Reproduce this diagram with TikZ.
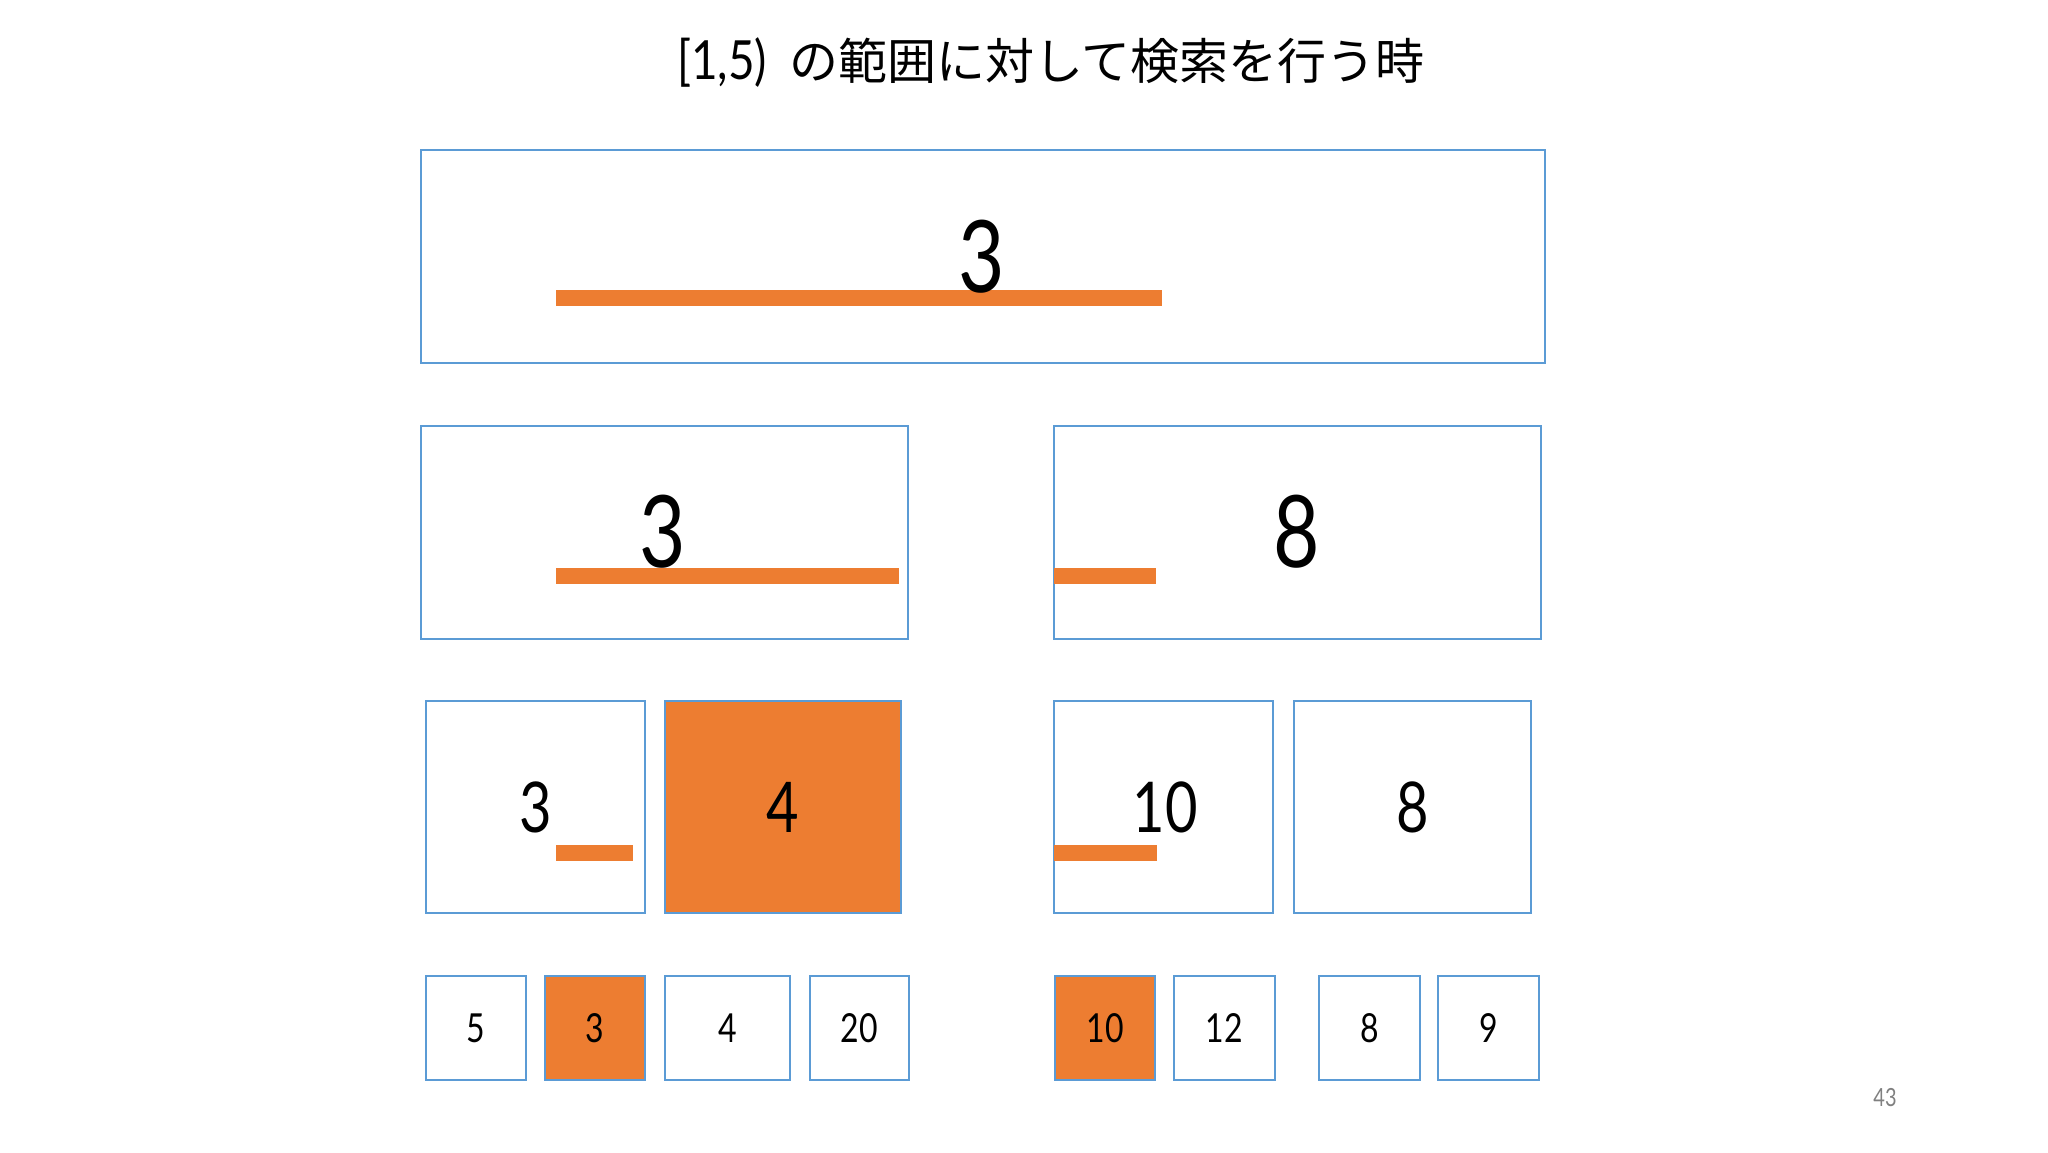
\documentclass[tikz,border=0pt]{standalone}
\usepackage{fontspec}
\setmainfont{Lato}
\newfontfamily\jpfont{Noto Sans CJK JP}
\newfontfamily\digfont[FakeStretch=0.8]{Lato}
\newfontfamily\titledig[FakeStretch=0.85]{Lato}
\definecolor{boxblue}{HTML}{5B9BD5}
\definecolor{bar}{HTML}{ED7D31}
\definecolor{pagegrey}{HTML}{808080}
\tikzset{
  cell/.style={draw=boxblue, line width=2pt, fill=white, inner sep=0pt},
  hot/.style={cell, fill=bar},
  orangebar/.style={fill=bar, draw=none, inner sep=0pt},
  bigdig/.style={font=\digfont\fontsize{100}{100}\selectfont},
  middig/.style={font=\digfont\fontsize{70}{70}\selectfont},
  smalldig/.style={font=\digfont\fontsize{40}{40}\selectfont},
}
\begin{document}
\begin{tikzpicture}[x=1pt,y=-1pt]
\useasboundingbox (0,0) rectangle (2048,1152);
\fill[white] (0,0) rectangle (2048,1152);
% title
\node (title) at (1051,63) {{\titledig\fontsize{54}{54}\selectfont [1,5)}\hspace{22pt}{\jpfont\fontsize{49}{49}\selectfont の範囲に対して検索を行う時}};
% level 1
\node[cell, minimum width=1124pt, minimum height=213pt] (r) at (983,256.5) {};
\node[orangebar, minimum width=606pt, minimum height=16pt] (rbar) at (859,298) {};
\node[bigdig] (rt) at (982,257) {3};
% level 2
\node[cell, minimum width=487pt, minimum height=213pt] (a) at (664.5,532.5) {};
\node[orangebar, minimum width=343pt, minimum height=16pt] (abar) at (727.5,576) {};
\node[bigdig] (at) at (663,532) {3};
\node[cell, minimum width=487pt, minimum height=213pt] (b) at (1297.5,532.5) {};
\node[orangebar, minimum width=102pt, minimum height=16pt] (bbar) at (1105,576) {};
\node[bigdig] (bt) at (1297,532) {8};
% level 3
\node[cell, minimum width=219pt, minimum height=212pt, middig] (c1) at (535.5,807) {3};
\node[orangebar, minimum width=77pt, minimum height=16pt] (c1bar) at (594.5,853) {};
\node[hot, minimum width=236pt, minimum height=212pt, middig] (c2) at (783,807) {4};
\node[cell, minimum width=219pt, minimum height=212pt] (c3) at (1163.5,807) {};
\node[orangebar, minimum width=103pt, minimum height=16pt] (c3bar) at (1105.5,853) {};
\node[middig] (c3t) at (1165,807) {10};
\node[cell, minimum width=237pt, minimum height=212pt, middig] (c4) at (1412.5,807) {8};
% leaves
\node[cell, minimum width=100pt, minimum height=104pt, smalldig] (l1) at (476,1028) {5};
\node[hot,  minimum width=100pt, minimum height=104pt, smalldig] (l2) at (595,1028) {3};
\node[cell, minimum width=125pt, minimum height=104pt, smalldig] (l3) at (727.5,1028) {4};
\node[cell, minimum width=99pt,  minimum height=104pt, smalldig] (l4) at (859.5,1028) {20};
\node[hot,  minimum width=100pt, minimum height=104pt, smalldig] (l5) at (1105,1028) {10};
\node[cell, minimum width=101pt, minimum height=104pt, smalldig] (l6) at (1224.5,1028) {12};
\node[cell, minimum width=101pt, minimum height=104pt, smalldig] (l7) at (1369.5,1028) {8};
\node[cell, minimum width=101pt, minimum height=104pt, smalldig] (l8) at (1488.5,1028) {9};
% page number
\node[text=pagegrey, font=\digfont\fontsize{25}{25}\selectfont] (pg) at (1885,1098) {43};
\end{tikzpicture}
\end{document}
